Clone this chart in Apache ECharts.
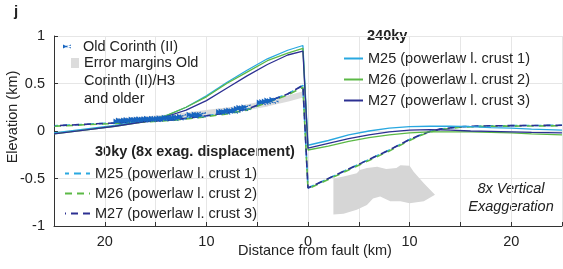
<!DOCTYPE html>
<html>
<head>
<meta charset="utf-8">
<script src="https://cdn.jsdelivr.net/npm/echarts@6/dist/echarts.min.js"></script>
<style>
  html, body { margin: 0; padding: 0; background: #fff; }
  #chart { width: 563px; height: 269px; }
</style>
</head>
<body>
<div id="chart"></div>
<script>
const FONT = 'Helvetica, "Liberation Sans", Arial, sans-serif'
const FS = 14.5

// 240ky profiles (solid)
const xSolid = [-25, -22, -19, -16, -14, -12, -10, -8, -6, -4, -2, -0.5, 0, 2, 4, 6, 8, 10, 12, 14, 16, 18, 20, 22, 25]
const m25Solid = [-0.02, 0.02, 0.06, 0.11, 0.16, 0.25, 0.37, 0.51, 0.64, 0.76, 0.85, 0.9, -0.15, -0.1, -0.04, 0.0, 0.03, 0.045, 0.05, 0.05, 0.045, 0.035, 0.03, 0.02, 0.01]
const m26Solid = [-0.03, 0.01, 0.05, 0.1, 0.16, 0.25, 0.36, 0.5, 0.62, 0.74, 0.82, 0.87, -0.2, -0.16, -0.11, -0.07, -0.04, -0.02, -0.01, -0.01, -0.01, -0.015, -0.02, -0.03, -0.04]
const m27Solid = [-0.03, 0.01, 0.05, 0.1, 0.15, 0.22, 0.32, 0.45, 0.58, 0.7, 0.8, 0.84, -0.18, -0.13, -0.08, -0.04, -0.01, 0.01, 0.015, 0.01, 0.0, -0.005, -0.01, -0.015, -0.02]

// 30ky profiles (dashed, 8x exaggerated displacement)
const xDash = [-25, -22, -19, -16, -13, -10, -8, -6, -4, -2, -0.5, 0, 2, 4, 6, 8, 10, 11, 12, 13, 15, 18, 25]
const m25Dash = [0.055, 0.07, 0.085, 0.1, 0.12, 0.16, 0.19, 0.23, 0.31, 0.39, 0.48, -0.6, -0.5, -0.4, -0.3, -0.2, -0.09, -0.045, -0.005, 0.02, 0.045, 0.055, 0.06]
const m26Dash = [0.05, 0.065, 0.08, 0.095, 0.115, 0.15, 0.18, 0.22, 0.3, 0.38, 0.46, -0.61, -0.51, -0.41, -0.31, -0.21, -0.1, -0.05, -0.01, 0.015, 0.04, 0.05, 0.055]
const m27Dash = [0.055, 0.07, 0.085, 0.1, 0.12, 0.16, 0.19, 0.23, 0.31, 0.39, 0.48, -0.6, -0.5, -0.4, -0.3, -0.2, -0.09, -0.045, -0.005, 0.02, 0.045, 0.055, 0.06]

// Old Corinth (II) observations
const corX = [-18.7, -18.45, -18.2, -17.95, -17.7, -17.45, -17.2, -16.95, -16.7, -16.45, -16.2, -15.95, -15.7,
  -15.45, -15.2, -14.95, -14.7, -14.45, -14.2, -13.95, -13.7, -13.45, -13.2, -12.95, -12.7, -12.45,
  -11.5, -11.25, -11.0, -10.75, -10.5,
  -8.6, -8.35, -8.1, -7.85, -7.6, -7.35, -7.1, -6.85, -6.6, -6.35, -6.1,
  -4.6, -4.35, -4.1, -3.85, -3.6, -3.35]
const corY = [0.10, 0.11, 0.105, 0.11, 0.115, 0.11, 0.12, 0.115, 0.12, 0.125, 0.12, 0.125, 0.13,
  0.12, 0.13, 0.125, 0.13, 0.135, 0.13, 0.14, 0.135, 0.14, 0.135, 0.145, 0.14, 0.15,
  0.17, 0.16, 0.175, 0.165, 0.17,
  0.20, 0.205, 0.2, 0.21, 0.215, 0.21, 0.22, 0.235, 0.245, 0.24, 0.25,
  0.30, 0.305, 0.31, 0.32, 0.315, 0.33]

// error margins band
const errX = [-19, -16, -13, -10, -7, -4, -2, -0.3]
const errY = [0.1, 0.12, 0.15, 0.19, 0.23, 0.29, 0.34, 0.39]

// grey shaded shape below the footwall
const polyX = [2.5, 3.5, 4.8, 5.1, 5.8, 6.8, 7.7, 8.7, 9.1, 10, 10.4, 11.4, 12.5, 11.4, 10, 9.1, 8.1, 7.1, 6.4, 5.8, 4.8, 3.5, 2.5]
const polyY = [-0.5, -0.48, -0.445, -0.41, -0.39, -0.375, -0.4, -0.39, -0.36, -0.365, -0.43, -0.55, -0.67, -0.74, -0.76, -0.74, -0.74, -0.69, -0.71, -0.78, -0.83, -0.87, -0.88]

const xTicks = [-20, -10, 0, 10, 20]

const C25 = '#29a8e0'
const C26 = '#5cb946'
const C27 = '#2c3092'

const NAMES = ['M25 (powerlaw l. crust 1)', 'M26 (powerlaw l. crust 2)', 'M27 (powerlaw l. crust 3)']
const ERR_NAME = 'Error margins Old\nCorinth (II)/H3\nand older'

function zip(xs, ys) {
  return xs.map((x, i) => [x, ys[i]])
}

function solid(name, color, ys) {
  return {
    name, type: 'line', data: zip(xSolid, ys), symbol: 'none', z: 4,
    lineStyle: { color, width: 1.3 }, itemStyle: { color }
  }
}

function dashed(name, color, ys, offset) {
  return {
    name: '30ky ' + name, type: 'line', data: zip(xDash, ys), symbol: 'none', z: 3,
    lineStyle: { color, width: 1.6, type: [7, 5], dashOffset: offset }, itemStyle: { color }
  }
}

const legendText = { fontSize: FS, color: '#222', fontFamily: FONT }

const chart = echarts.init(document.getElementById('chart'))

chart.setOption({
  animation: false,
  textStyle: { fontFamily: FONT },
  grid: { left: 54, right: 1, top: 36, bottom: 43, outerBoundsMode: 'none', containLabel: false },
  xAxis: {
    type: 'value', min: -25, max: 25, interval: 5,
    name: 'Distance from fault (km)', nameLocation: 'middle', nameGap: 17, nameMoveOverlap: false,
    nameTextStyle: { fontSize: FS, color: '#222', fontFamily: FONT, padding: [0, 0, 0, 14] },
    axisLine: { onZero: false, lineStyle: { color: '#333' } },
    axisTick: { inside: true, length: 4, lineStyle: { color: '#333' } },
    axisLabel: {
      fontSize: FS, color: '#222', fontFamily: FONT, margin: 8,
      formatter: (v) => xTicks.includes(v) ? String(Math.abs(v)) : ''
    },
    splitLine: { show: true, lineStyle: { color: '#e6e6e6' } }
  },
  yAxis: {
    type: 'value', min: -1, max: 1, interval: 0.5,
    name: 'Elevation (km)', nameLocation: 'middle', nameGap: 34, nameMoveOverlap: false,
    nameTextStyle: { fontSize: FS, color: '#222', fontFamily: FONT, padding: [0, 0, 0, 28] },
    axisLine: { show: true, onZero: false, lineStyle: { color: '#333' } },
    axisTick: { show: true, inside: true, length: 4, lineStyle: { color: '#333' } },
    axisLabel: { fontSize: FS, color: '#222', fontFamily: FONT, margin: 9 },
    splitLine: { show: true, lineStyle: { color: '#e6e6e6' } }
  },
  legend: [
    {
      data: ['Old Corinth (II)'], left: 63, top: 39, padding: 0, selectedMode: false,
      itemWidth: 8, itemHeight: 5,
      textStyle: { ...legendText, padding: [0, 0, 0, 7] }
    },
    {
      // tall icon so the square sits next to the first text line
      data: [{ name: ERR_NAME, icon: 'path://M0,0H8V10H0ZM0,46H0.01V46.01H0Z' }],
      left: 71, top: 54, padding: 0, selectedMode: false,
      itemWidth: 8, itemHeight: 46, itemStyle: { color: '#dcdcdc' },
      textStyle: { ...legendText, lineHeight: 18 }
    },
    {
      data: NAMES, left: 343, top: 51, padding: 0, orient: 'vertical', selectedMode: false,
      itemWidth: 19, itemGap: 6, itemStyle: { opacity: 0 },
      textStyle: legendText
    },
    {
      data: NAMES.map((n) => '30ky ' + n), left: 64, top: 166, padding: 0, orient: 'vertical', selectedMode: false,
      itemWidth: 25, itemGap: 5, itemStyle: { opacity: 0 },
      formatter: (n) => n.replace('30ky ', ''),
      textStyle: legendText
    }
  ],
  graphic: [
    { type: 'text', left: 14, top: 4, style: { text: 'j', font: 'bold 15px ' + FONT, fill: '#222' } },
    { type: 'text', left: 367, top: 28, style: { text: '240ky', font: 'bold ' + FS + 'px ' + FONT, fill: '#222' } },
    { type: 'text', left: 95, top: 144, style: { text: '30ky (8x exag. displacement)', font: 'bold ' + FS + 'px ' + FONT, fill: '#222' } },
    {
      type: 'text', x: 511, y: 180,
      style: { text: '8x Vertical\nExaggeration', font: 'italic ' + FS + 'px ' + FONT, fill: '#222', align: 'center', verticalAlign: 'top', lineHeight: 18 }
    }
  ],
  series: [
    {
      name: 'shape', type: 'custom', silent: true, z: 1, data: [[0, 0]],
      renderItem: (params, api) => ({
        type: 'polygon',
        shape: { points: polyX.map((x, i) => api.coord([x, polyY[i]])) },
        style: { fill: '#d6d6d6' }
      })
    },
    {
      name: ERR_NAME, type: 'line', data: zip(errX, errY), symbol: 'none', z: 2,
      lineStyle: { color: '#dcdcdc', width: 6 }, itemStyle: { color: '#dcdcdc' }
    },
    dashed(NAMES[0], C25, m25Dash, 3),
    dashed(NAMES[1], C26, m26Dash, 0),
    dashed(NAMES[2], C27, m27Dash, 6),
    {
      name: 'Old Corinth (II)', type: 'scatter', data: zip(corX, corY), z: 5,
      symbol: 'path://M0,0L5,2.5L0,5ZM10,0L5,2.5L10,5ZM0,1.5L10,1.5L10,3.5L0,3.5Z',
      symbolSize: [9, 6], itemStyle: { color: '#1765c0', opacity: 1 }
    },
    solid(NAMES[0], C25, m25Solid),
    solid(NAMES[1], C26, m26Solid),
    solid(NAMES[2], C27, m27Solid)
  ]
})

window.addEventListener('resize', () => chart.resize())
</script>
</body>
</html>
